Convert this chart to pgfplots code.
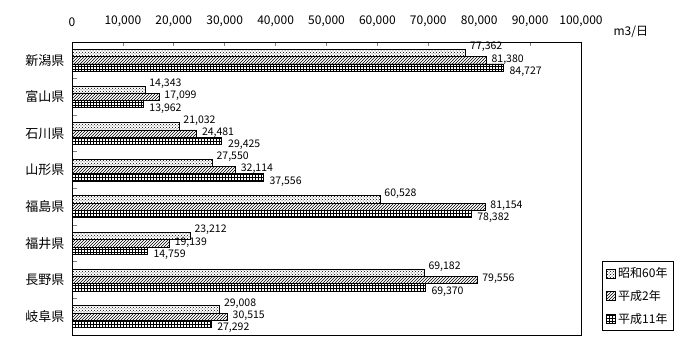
\documentclass[border=0pt]{standalone}
\usepackage{fontspec}
\setmainfont{Noto Sans CJK JP}
\usepackage{pgfplots}
\pgfplotsset{compat=1.18}
\usetikzlibrary{patterns}

\begin{document}
\begin{tikzpicture}
\begin{axis}[
  scale only axis, width=509pt, height=293pt,
  clip=false,
  xbar=0pt, bar width=7.3pt,
  xmin=0, xmax=100000,
  ymin=-0.5, ymax=7.5,
  axis line style={line width=0.8pt},
  xtick={0,10000,...,100000},
  xtick pos=top, xticklabel pos=top,
  tick align=inside,
  major tick length=4.5pt,
  minor tick length=4.5pt,
  scaled x ticks=false,
  /pgf/number format/fixed,
  /pgf/number format/1000 sep={,},
  /pgf/number format/assume math mode=true,
  xticklabel style={font=\fontsize{12}{14}\selectfont, yshift=12pt},
  every major x tick/.append style={line width=0.8pt},
  ytick={0,...,7},
  yticklabels={岐阜県,長野県,福井県,福島県,山形県,石川県,富山県,新潟県},
  ytick pos=left,
  yticklabel style={font=\fontsize{13}{15}\selectfont, xshift=-4pt},
  every major y tick/.append style={draw=none},
  every minor y tick/.append style={line width=0.8pt},
  minor ytick={0.5,1.5,...,6.5},
  point meta=x,
  nodes near coords,
  every node near coord/.append style={font=\fontsize{10.5}{12}\selectfont, anchor=west, inner sep=1pt},
  legend style={at={(1,0)}, anchor=south west, xshift=21pt, yshift=4pt, draw=black, line width=0.8pt,
    font=\fontsize{12}{14}\selectfont, row sep=7pt, inner sep=4pt, cells={anchor=west}},
  legend image code/.code={\draw[#1, line width=0.8pt] (0pt,-4.5pt) rectangle (9pt,4.5pt);},
]
\addplot[draw=black, line width=0.8pt, pattern=crosshatch dots, bar shift=7.3pt,
  every node near coord/.append style={xshift=3pt, yshift=6pt}]
  coordinates {(77362,7) (14343,6) (21032,5) (27550,4) (60528,3) (23212,2) (69182,1) (29008,0)};
\addplot[draw=black, line width=0.8pt, pattern=north east lines, bar shift=0pt,
  every node near coord/.append style={xshift=4pt, yshift=1pt}]
  coordinates {(81380,7) (17099,6) (24481,5) (32114,4) (81154,3) (19139,2) (79556,1) (30515,0)};
\addplot[draw=black, line width=0.8pt, pattern=grid, bar shift=-7.3pt,
  every node near coord/.append style={xshift=5pt, yshift=-4pt}]
  coordinates {(84727,7) (13962,6) (29425,5) (37556,4) (78382,3) (14759,2) (69370,1) (27292,0)};
\legend{昭和60年,平成2年,平成11年}
\node[anchor=west, font=\fontsize{12}{14}\selectfont, xshift=29pt, yshift=10pt] at (axis description cs:1,1) {m3/日};
\end{axis}
\path ([shift={(-72pt,-25pt)}]current axis.south west) rectangle ([shift={(119pt,42pt)}]current axis.north east);
\end{tikzpicture}
\end{document}
